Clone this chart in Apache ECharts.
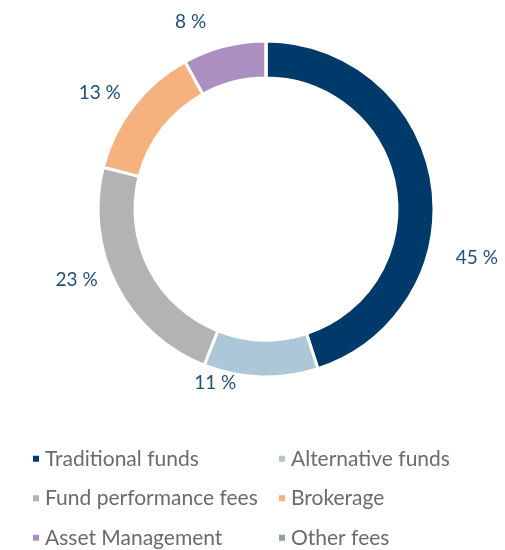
<!DOCTYPE html>
<html>
<head>
<meta charset="utf-8">
<script src="https://cdn.jsdelivr.net/npm/echarts@6/dist/echarts.min.js"></script>
<style>
  html, body { margin: 0; padding: 0; background: #fff; }
  #main { width: 505px; height: 550px; }
</style>
</head>
<body>
<div id="main"></div>
<script>
var categories = ['Traditional funds', 'Alternative funds', 'Fund performance fees', 'Brokerage', 'Asset Management', 'Other fees'];
var shares = [45, 11, 23, 13, 8, 0];
var colors = ['#003a6a', '#abc7d8', '#b3b3b3', '#f6b27e', '#ab8fc0', '#8a9fae'];

// small nudges so the labels sit where the original puts them
var labelNudge = [[7, 77], [-19, -6], [-3, -11], [2, -6], [-10, -13], [0, 0]];

var chart = echarts.init(document.getElementById('main'));

var data = categories.map(function (name, i) {
  return { name: name, value: shares[i] };
});

var option = {
  color: colors,
  legend: {
    left: 26,
    top: 439,
    width: 490,
    itemWidth: 8,
    itemHeight: 8,
    itemGap: 10,
    icon: 'rect',
    textStyle: {
      fontFamily: 'Lato',
      fontSize: 21,
      color: '#6b6b6b',
      width: 222,
      lineHeight: 29.5
    },
    data: categories
  },
  series: [
    {
      type: 'pie',
      center: [266, 209],
      radius: [131, 168],
      startAngle: 90,
      avoidLabelOverlap: false,
      itemStyle: {
        borderColor: '#fff',
        borderWidth: 3
      },
      label: {
        position: 'outside',
        fontFamily: 'Lato',
        fontSize: 19,
        color: '#1f4e79',
        formatter: function (p) {
          return p.value ? p.value + ' %' : '';
        }
      },
      labelLine: { show: false, length: 12, length2: 0 },
      labelLayout: function (p) {
        var n = labelNudge[p.dataIndex];
        return { dx: n[0], dy: n[1] };
      },
      emphasis: { disabled: true },
      data: data
    }
  ]
};

chart.setOption(option);
</script>
</body>
</html>
